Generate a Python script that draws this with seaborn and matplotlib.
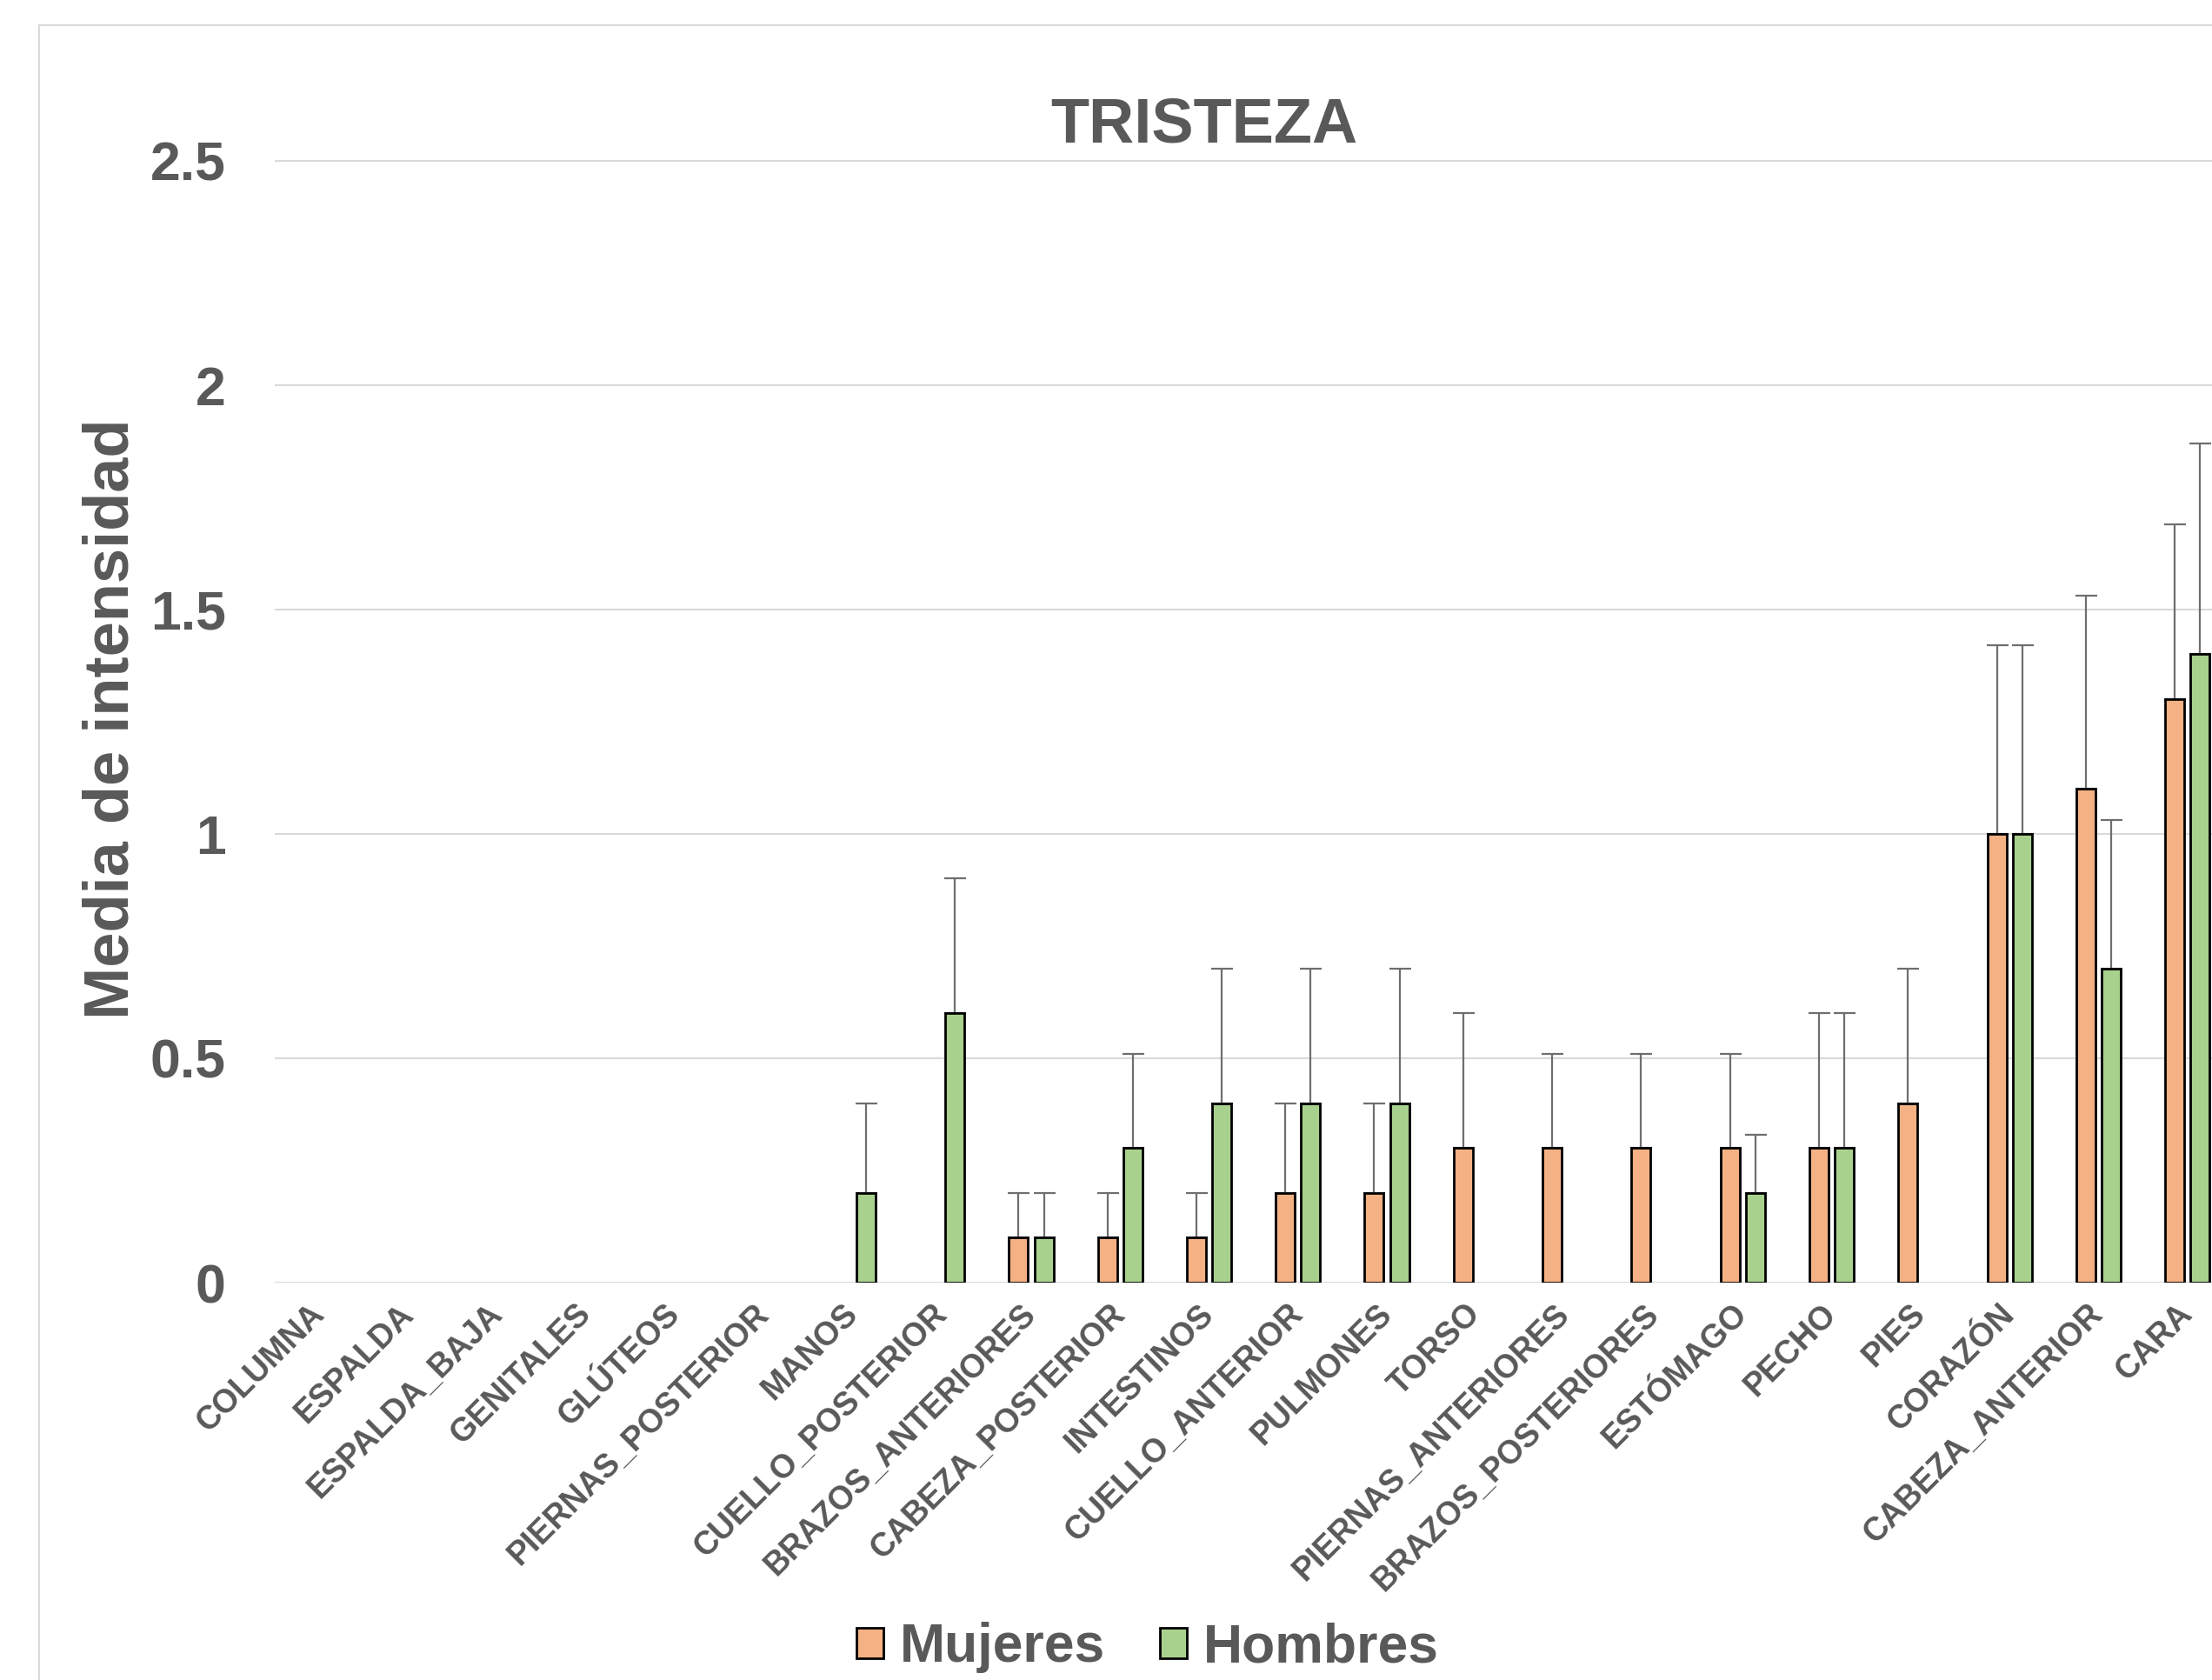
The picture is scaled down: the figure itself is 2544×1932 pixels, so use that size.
#Grafico de barras: TRISTEZA, media de intensidad por zona del cuerpo

import numpy as np
import pandas as pd
import seaborn as sns
import matplotlib.pyplot as plt
from matplotlib.patches import Rectangle

# datos
zonas = ['COLUMNA', 'ESPALDA', 'ESPALDA_BAJA', 'GENITALES', 'GLÚTEOS',
         'PIERNAS_POSTERIOR', 'MANOS', 'CUELLO_POSTERIOR', 'BRAZOS_ANTERIORES',
         'CABEZA_POSTERIOR', 'INTESTINOS', 'CUELLO_ANTERIOR', 'PULMONES', 'TORSO',
         'PIERNAS_ANTERIORES', 'BRAZOS_POSTERIORES', 'ESTÓMAGO', 'PECHO', 'PIES',
         'CORAZÓN', 'CABEZA_ANTERIOR', 'CARA']
mujeres = [0, 0, 0, 0, 0, 0, 0, 0, 0.1, 0.1, 0.1, 0.2, 0.2, 0.3, 0.3, 0.3, 0.3, 0.3, 0.4, 1.0, 1.1, 1.3]
hombres = [0, 0, 0, 0, 0, 0, 0.2, 0.6, 0.1, 0.3, 0.4, 0.4, 0.4, 0, 0, 0, 0.2, 0.3, 0, 1.0, 0.7, 1.4]
err_mujeres = [0, 0, 0, 0, 0, 0, 0, 0, 0.1, 0.1, 0.1, 0.2, 0.2, 0.3, 0.21, 0.21, 0.21, 0.3, 0.3, 0.42, 0.43, 0.39]
err_hombres = [0, 0, 0, 0, 0, 0, 0.2, 0.3, 0.1, 0.21, 0.3, 0.3, 0.3, 0, 0, 0, 0.13, 0.3, 0, 0.42, 0.33, 0.47]
grupos = ['Mujeres', 'Hombres']
yticks = [0, 0.5, 1, 1.5, 2, 2.5]
ytick_labels = ['0', '0.5', '1', '1.5', '2', '2.5']

gris = '#595959'
colores = {'Mujeres': '#F4B183', 'Hombres': '#A9D18E'}

df = pd.DataFrame({
    'zona': zonas * 2,
    'sexo': ['Mujeres'] * len(zonas) + ['Hombres'] * len(zonas),
    'media': mujeres + hombres,
})
# las barras con valor 0 no se ven en el original
df = df[df['media'] > 0]

sns.set_style('white')
plt.rcParams['font.family'] = ['Liberation Sans', 'DejaVu Sans']
plt.rcParams['font.weight'] = 'bold'

fig = plt.figure(figsize=(25.44, 19.32), dpi=100)
ax = fig.add_axes([0.1244, 0.2365, 0.8846, 0.6685])

# marco del area del grafico (se sale por la derecha y por abajo)
fig.patches.append(Rectangle((0.0176, -0.1), 1.2, 1.085, transform=fig.transFigure,
                             fill=False, edgecolor='#D9D9D9', linewidth=1.5, zorder=0))

sns.barplot(data=df, x='zona', y='media', hue='sexo', order=zonas, hue_order=grupos,
            palette=colores, saturation=1, edgecolor='black', linewidth=2, width=0.573,
            gap=0.25, errorbar=None, legend=False, ax=ax, zorder=2)

# barras de error (solo hacia arriba)
xs, ys, es = [], [], []
for cont, grupo in zip(ax.containers, grupos):
    errs = err_mujeres if grupo == 'Mujeres' else err_hombres
    for bar in cont:
        xc = bar.get_x() + bar.get_width() / 2
        i = int(round(xc))
        xs.append(xc)
        ys.append(bar.get_height())
        es.append(errs[i])
ax.errorbar(xs, ys, yerr=[np.zeros(len(es)), es], fmt='none', ecolor='#6E6E6E',
            elinewidth=1.6, capsize=9, capthick=1.6, zorder=1.5)

ax.set_xlim(-0.5, len(zonas) - 0.5)
ax.set_ylim(0, 2.502)
ax.set_yticks(yticks)
ax.set_yticklabels(ytick_labels)
ax.yaxis.grid(True, color='#D9D9D9', linewidth=1.5)
ax.set_axisbelow(True)
for s in ax.spines.values():
    s.set_visible(False)
ax.tick_params(axis='both', length=0, colors=gris)
ax.tick_params(axis='y', labelsize=45, pad=41)
ax.tick_params(axis='x', labelsize=27, pad=22)
for lab in ax.get_yticklabels():
    lab.set_fontweight('bold')
for lab in ax.get_xticklabels():
    lab.set_rotation(45)
    lab.set_ha('right')
    lab.set_va('center')
    lab.set_rotation_mode('anchor')
    lab.set_fontweight('bold')
ax.set_xlabel('')
ax.set_ylabel('')

fig.text(0.5444, 0.9155, 'TRISTEZA', ha='center', va='baseline', fontsize=52,
         fontweight='bold', color=gris)
fig.text(129 / 2544, 1 - 827 / 1932, 'Media de intensidad', rotation=90, ha='center',
         va='center', fontsize=52, fontweight='bold', color=gris)

handles = [Rectangle((0, 0), 1, 1, facecolor=colores[g], edgecolor='black', linewidth=2)
           for g in grupos]
leg = fig.legend(handles, grupos, loc='center', bbox_to_anchor=(1320 / 2544, 1 - 1895 / 1932),
                 ncol=2, frameon=False, fontsize=45, handlelength=0.5, handleheight=0.5,
                 handletextpad=0.3, columnspacing=1.0)
for t in leg.get_texts():
    t.set_color(gris)
    t.set_fontweight('bold')

fig.savefig('out.png', dpi=100)
